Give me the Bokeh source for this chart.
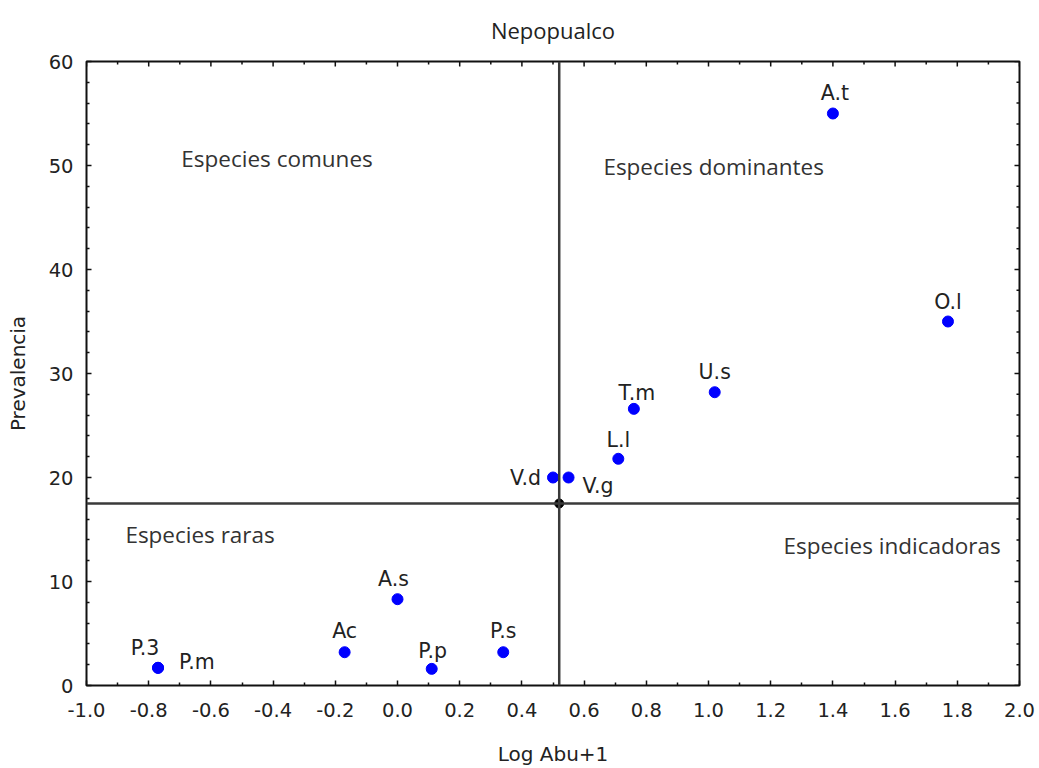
import math
from bokeh.plotting import figure
from bokeh.models import FixedTicker, Span, Label, ColumnDataSource
from bokeh.embed import file_html
from bokeh.resources import INLINE

# ---- data ----
species = ["A.t", "O.l", "U.s", "T.m", "L.l", "V.d", "V.g", "A.s", "Ac", "P.p", "P.s", "P.3", "P.m"]
log_abu = [1.40, 1.77, 1.02, 0.76, 0.71, 0.50, 0.55, 0.00, -0.17, 0.11, 0.34, -0.77, -0.77]
prevalencia = [55.0, 35.0, 28.2, 26.6, 21.8, 20.0, 20.0, 8.3, 3.2, 1.6, 3.2, 1.7, 1.7]

x_cut = 0.52      # vertical dividing line (Log Abu+1)
y_cut = 17.5      # horizontal dividing line (Prevalencia)

x_min, x_max = -1.0, 2.0
y_min, y_max = 0, 60

x_ticks = [-1.0, -0.8, -0.6, -0.4, -0.2, 0.0, 0.2, 0.4, 0.6, 0.8, 1.0, 1.2, 1.4, 1.6, 1.8, 2.0]
x_tick_labels = ["-1.0", "-0.8", "-0.6", "-0.4", "-0.2", "0.0", "0.2", "0.4", "0.6", "0.8",
                 "1.0", "1.2", "1.4", "1.6", "1.8", "2.0"]
x_minor = [-0.9, -0.7, -0.5, -0.3, -0.1, 0.1, 0.3, 0.5, 0.7, 0.9, 1.1, 1.3, 1.5, 1.7, 1.9]
y_ticks = [0, 10, 20, 30, 40, 50, 60]
y_tick_labels = ["0", "10", "20", "30", "40", "50", "60"]
y_minor = [2, 4, 6, 8, 12, 14, 16, 18, 22, 24, 26, 28, 32, 34, 36, 38, 42, 44, 46, 48, 52, 54, 56, 58]

title_text = "Nepopualco"
quadrant_names = ["Especies comunes", "Especies dominantes", "Especies raras", "Especies indicadoras"]

# ---- styling / layout (label placement in screen pixels) ----
label_style = {
    "A.t": ("center", 2, 21), "O.l": ("center", 0, 20), "U.s": ("center", 0, 20),
    "T.m": ("center", 3, 16), "L.l": ("center", 0, 19), "V.d": ("right", -12, 0),
    "V.g": ("left", 14, -8), "A.s": ("center", -4, 20), "Ac": ("center", 0, 21),
    "P.p": ("center", 1, 18), "P.s": ("center", 0, 21), "P.3": ("center", -13, 20),
    "P.m": ("left", 21, 6),
}
quadrant_pos = [(-0.695, 50.7), (0.662, 49.9), (-0.875, 14.5), (1.241, 13.5)]

TXT = "#222222"
TICK_FONT = "DejaVu Sans"
TICK_COLOR = "#111111"

p = figure(width=1039, height=768, x_range=(x_min, x_max), y_range=(y_min, y_max),
           output_backend="svg", toolbar_location=None,
           min_border_left=86, min_border_right=20, min_border_top=61, min_border_bottom=81,
           title=title_text)
p.background_fill_color = "white"
p.border_fill_color = "white"
p.xgrid.visible = False
p.ygrid.visible = False
p.outline_line_color = "#111111"
p.outline_line_width = 2

p.title.align = "center"
p.title.vertical_align = "top"
p.title.text_font = "Open Sans"
p.title.text_font_size = "22px"
p.title.text_font_style = "normal"
p.title.text_color = TXT
p.title.standoff = 29

def style_axis(ax, ticks, minor, labels):
    ax.ticker = FixedTicker(ticks=ticks, minor_ticks=minor)
    ax.axis_line_color = None
    ax.major_tick_in = 5
    ax.major_tick_out = 0
    ax.minor_tick_in = 3
    ax.minor_tick_out = 0
    ax.major_tick_line_color = TICK_COLOR
    ax.minor_tick_line_color = TICK_COLOR
    ax.major_tick_line_width = 1.5
    ax.minor_tick_line_width = 1.5
    ax.major_label_overrides = {t: l for t, l in zip(ticks, labels)}
    ax.major_label_text_font = TICK_FONT
    ax.major_label_text_font_size = "19.5px"
    ax.major_label_text_color = TXT
    ax.axis_label_text_font = TICK_FONT
    ax.axis_label_text_font_size = "20px"
    ax.axis_label_text_font_style = "normal"
    ax.axis_label_text_color = TXT

xa = p.xaxis[0]
style_axis(xa, x_ticks, x_minor, x_tick_labels)
xa.major_label_standoff = 17
xa.axis_label = "Log Abu+1"
xa.axis_label_standoff = 22

ya = p.yaxis[0]
style_axis(ya, y_ticks, y_minor, y_tick_labels)
ya.major_label_standoff = 13
ya.axis_label = "Prevalencia"
ya.axis_label_standoff = 16

# mirrored inward ticks on the top and right edges of the frame
p.ray(x=x_ticks, y=[y_max] * len(x_ticks), length=5, length_units="screen",
      angle=-math.pi / 2, line_color=TICK_COLOR, line_width=1.5)
p.ray(x=x_minor, y=[y_max] * len(x_minor), length=3, length_units="screen",
      angle=-math.pi / 2, line_color=TICK_COLOR, line_width=1.5)
p.ray(x=[x_max] * len(y_ticks), y=y_ticks, length=5, length_units="screen",
      angle=math.pi, line_color=TICK_COLOR, line_width=1.5)
p.ray(x=[x_max] * len(y_minor), y=y_minor, length=3, length_units="screen",
      angle=math.pi, line_color=TICK_COLOR, line_width=1.5)

# dividing lines
p.add_layout(Span(location=x_cut, dimension="height", line_color="#3a3a3a", line_width=2.5))
p.add_layout(Span(location=y_cut, dimension="width", line_color="#3a3a3a", line_width=2.5))

src = ColumnDataSource(dict(x=log_abu, y=prevalencia, name=species))
p.scatter("x", "y", source=src, size=11, fill_color="#0000ff", line_color="#0000ff")
p.scatter([x_cut], [y_cut], size=9, fill_color="black", line_color="black")

for name, xv, yv in zip(species, log_abu, prevalencia):
    align, dx, dy = label_style[name]
    p.add_layout(Label(x=xv, y=yv, text=name, x_offset=dx, y_offset=dy,
                       text_align=align, text_baseline="alphabetic",
                       text_font=TICK_FONT, text_font_size="20.5px", text_color=TXT))

for txt, (qx, qy) in zip(quadrant_names, quadrant_pos):
    p.add_layout(Label(x=qx, y=qy, text=txt, text_align="left", text_baseline="alphabetic",
                       text_font="Open Sans", text_font_size="22.5px", text_color="#333333"))

open("out.html", "w").write(file_html(p, INLINE))
